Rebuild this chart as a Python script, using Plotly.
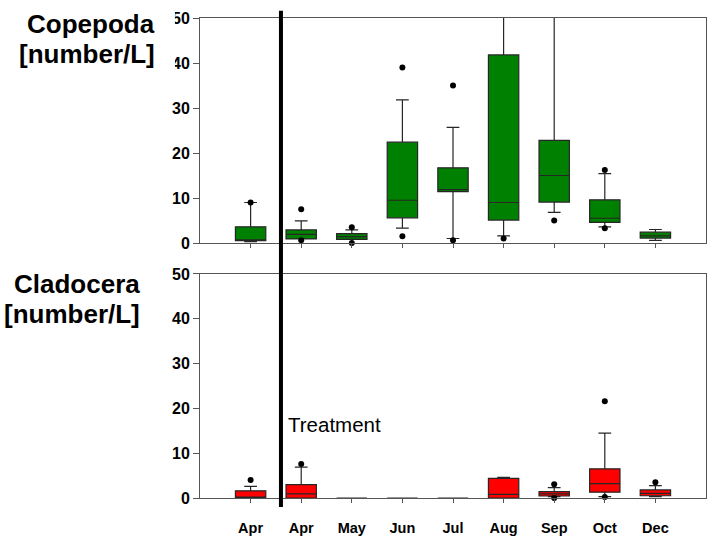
import plotly.graph_objects as go

# Categories (sampling months); first "Apr" is pre-treatment
months = ["Apr", "Apr", "May", "Jun", "Jul", "Aug", "Sep", "Oct", "Dec"]
positions = list(range(len(months)))

# Copepoda [number/L] box statistics
cop_q1 = [0.5, 0.9, 0.8, 5.6, 11.4, 5.1, 9.1, 4.6, 1.1]
cop_median = [0.6, 1.9, 1.4, 9.5, 11.85, 9.0, 15.0, 5.5, 1.6]
cop_q3 = [3.6, 2.9, 2.1, 22.4, 16.7, 41.8, 22.8, 9.6, 2.4]
cop_low = [0.3, 0.9, 0.8, 3.3, 1.0, 1.6, 6.8, 3.6, 0.6]
cop_high = [9.0, 4.9, 2.9, 31.8, 25.7, 55.0, 55.0, 15.4, 3.0]
cop_out_x = [0, 1, 1, 2, 2, 3, 3, 4, 4, 5, 6, 7, 7]
cop_out_y = [9.0, 7.5, 0.6, 3.5, 0.0, 39.0, 1.5, 35.0, 0.6, 1.0, 5.0, 16.2, 3.3]

# Cladocera [number/L] box statistics
cla_q1 = [0.0, 0.0, 0.0, 0.0, 0.0, 0.0, 0.45, 1.3, 0.5]
cla_median = [0.1, 0.9, 0.0, 0.0, 0.0, 0.8, 0.9, 3.2, 1.05]
cla_q3 = [1.6, 3.0, 0.0, 0.0, 0.0, 4.4, 1.4, 6.5, 1.8]
cla_low = [0.0, 0.0, 0.0, 0.0, 0.0, 0.0, 0.3, 0.3, 0.3]
cla_high = [2.6, 6.9, 0.0, 0.0, 0.0, 4.6, 2.3, 14.5, 2.75]
cla_out_x = [0, 1, 6, 6, 7, 7, 8]
cla_out_y = [4.0, 7.6, 3.05, 0.0, 21.6, 0.25, 3.5]

y_ticks = [0, 10, 20, 30, 40, 50]
TREATMENT_X = 0.6

FONT = "Arial, Liberation Sans, sans-serif"
EDGE = "#262626"

fig = go.Figure()

fig.add_trace(go.Box(
    x=positions, q1=cop_q1, median=cop_median, q3=cop_q3,
    lowerfence=cop_low, upperfence=cop_high,
    width=0.6, whiskerwidth=0.42, boxpoints=False,
    fillcolor="#008000", line=dict(color=EDGE, width=1.2),
    xaxis="x", yaxis="y", showlegend=False, hoverinfo="skip"))
fig.add_trace(go.Scatter(
    x=cop_out_x, y=cop_out_y, mode="markers",
    marker=dict(color="black", size=6),
    xaxis="x", yaxis="y", showlegend=False, hoverinfo="skip", cliponaxis=False))

fig.add_trace(go.Box(
    x=positions, q1=cla_q1, median=cla_median, q3=cla_q3,
    lowerfence=cla_low, upperfence=cla_high,
    width=0.6, whiskerwidth=0.42, boxpoints=False,
    fillcolor="#ff0000", line=dict(color=EDGE, width=1.2),
    xaxis="x2", yaxis="y2", showlegend=False, hoverinfo="skip"))
fig.add_trace(go.Scatter(
    x=cla_out_x, y=cla_out_y, mode="markers",
    marker=dict(color="black", size=6),
    xaxis="x2", yaxis="y2", showlegend=False, hoverinfo="skip", cliponaxis=False))

axis_common = dict(showgrid=False, zeroline=False, showline=True,
                   linecolor="#555555", linewidth=1, mirror=True)

fig.update_layout(
    width=708, height=538,
    margin=dict(l=200, r=2, t=18, b=40),
    paper_bgcolor="white", plot_bgcolor="white",
    font=dict(family=FONT, color="black"),
    xaxis=dict(domain=[0, 1], range=[-1, 9], anchor="y",
               tickvals=positions, ticktext=months, showticklabels=False,
               ticks="outside", ticklen=4, tickcolor="#555555", **axis_common),
    yaxis=dict(domain=[0.53125, 1], range=[0, 50], anchor="x",
               tickvals=y_ticks, ticks="outside", ticklen=6, tickcolor="#555555",
               tickfont=dict(family=FONT, size=16, color="black", weight="bold"),
               **axis_common),
    xaxis2=dict(domain=[0, 1], range=[-1, 9], anchor="y2",
                tickvals=positions, ticktext=months,
                ticks="outside", ticklen=4, tickcolor="#555555",
                ticklabelstandoff=13,
                tickfont=dict(family=FONT, size=14.5, color="black", weight="bold"),
                **axis_common),
    yaxis2=dict(domain=[0, 0.4667], range=[0, 50], anchor="x2",
                tickvals=y_ticks, ticks="outside", ticklen=6, tickcolor="#555555",
                tickfont=dict(family=FONT, size=16, color="black", weight="bold"),
                **axis_common),
)

# Treatment divider line spanning both panels
fig.add_shape(type="line", xref="x", yref="paper",
              x0=TREATMENT_X, x1=TREATMENT_X, y0=-0.019, y1=1.015,
              line=dict(color="black", width=4), layer="above")

# white patch hiding part of the top tick labels (as in the original)
fig.add_shape(type="rect", xref="paper", yref="paper",
              x0=-0.082, x1=-0.0495, y0=0.885, y1=1.02,
              fillcolor="white", line=dict(width=0), layer="above")

title_font = dict(family=FONT, size=26, color="black", weight="bold")
for txt, xr, yp in [("Copepoda", -0.085, 0.9875), ("[number/L]", -0.085, 0.925),
                    ("Cladocera", -0.1146, 0.4458), ("[number/L]", -0.1146, 0.3833)]:
    fig.add_annotation(text=txt, xref="paper", yref="paper", x=xr, y=yp,
                       xanchor="right", yanchor="middle", showarrow=False,
                       font=title_font)

fig.add_annotation(text="Treatment", xref="paper", yref="paper",
                   x=0.170, y=(498 - 424.5) / 480, xanchor="left", yanchor="middle",
                   showarrow=False, font=dict(family=FONT, size=20.5, color="black"))

# remove the default 8px page margin so the figure sits at the window origin
fig.write_html("out.html",
               config={"displayModeBar": False, "staticPlot": True},
               post_script="document.body.style.margin='0';document.body.style.overflow='hidden';")
